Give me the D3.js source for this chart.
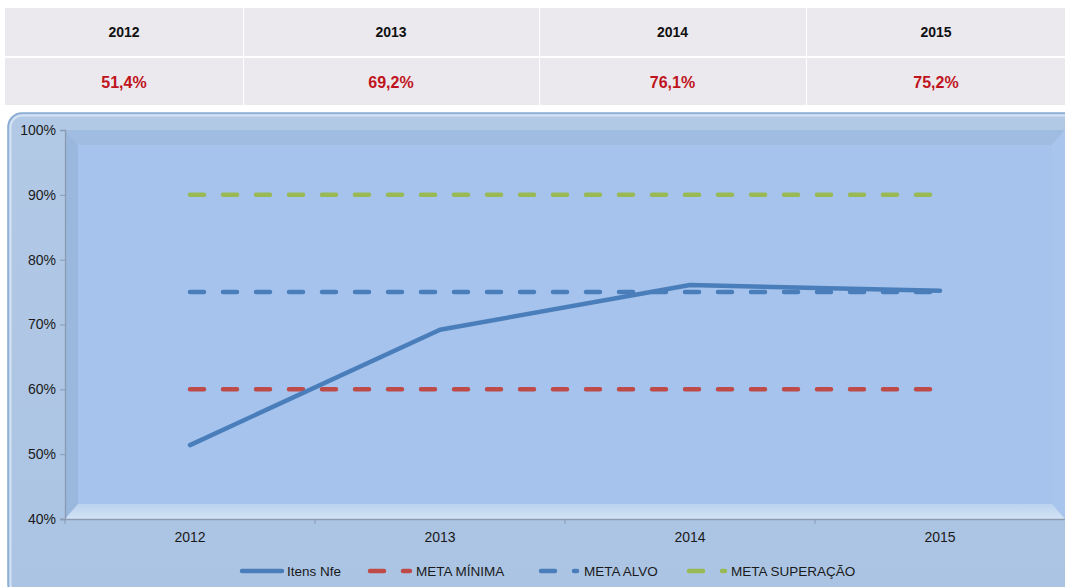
<!DOCTYPE html>
<html><head><meta charset="utf-8">
<script src="https://cdn.jsdelivr.net/npm/d3@7/dist/d3.min.js"></script>
<style>
html,body{margin:0;padding:0;background:#fff;}
svg{display:block;font-family:"Liberation Sans",Arial,sans-serif;}
</style></head>
<body>
<svg id="c" width="1065" height="587"></svg>
<script>
const categories = ["2012","2013","2014","2015"];
const itensNfe = [51.4, 69.2, 76.1, 75.2];
const metaMinima = [60, 60, 60, 60];
const metaAlvo = [75, 75, 75, 75];
const metaSuperacao = [90, 90, 90, 90];
const yTicks = [40, 50, 60, 70, 80, 90, 100];
const seriesNames = ["Itens Nfe", "META MÍNIMA", "META ALVO", "META SUPERAÇÃO"];

const svg = d3.select("#c");

// ---- Top table ----
const colEdges = [5, 243, 539, 806, 1070];
const tbl = svg.append("g");
const fmt = v => v.toFixed(1).replace(".", ",") + "%";
categories.forEach((c, i) => {
  const x0 = colEdges[i], x1 = colEdges[i+1];
  tbl.append("rect").attr("x", x0 + (i ? 1 : 0)).attr("y", 8).attr("width", x1 - x0 - (i ? 1 : 0)).attr("height", 48).attr("fill", "#EBE9EE");
  tbl.append("rect").attr("x", x0 + (i ? 1 : 0)).attr("y", 58).attr("width", x1 - x0 - (i ? 1 : 0)).attr("height", 47).attr("fill", "#EBE9EE");
  const cx = i === 3 ? 936 : (x0 + x1) / 2;
  tbl.append("text").attr("x", cx).attr("y", 32).attr("text-anchor", "middle").attr("dominant-baseline", "central")
    .attr("font-size", 14).attr("font-weight", "bold").attr("fill", "#111").text(c);
  tbl.append("text").attr("x", cx).attr("y", 82).attr("text-anchor", "middle").attr("dominant-baseline", "central")
    .attr("font-size", 16).attr("font-weight", "bold").attr("fill", "#C0141C").text(fmt(itensNfe[i]));
});

// ---- Chart frame ----
const defs = svg.append("defs");
const fg = defs.append("linearGradient").attr("id", "frameG").attr("x1", 0).attr("y1", 0).attr("x2", 0).attr("y2", 1);
fg.append("stop").attr("offset", "0").attr("stop-color", "#B2C9E6");
fg.append("stop").attr("offset", "1").attr("stop-color", "#ABC4E3");
svg.append("rect").attr("x", 8).attr("y", 113).attr("width", 1075).attr("height", 485).attr("rx", 14)
  .attr("fill", "url(#frameG)").attr("stroke", "#86A9D4").attr("stroke-width", 1.5);
svg.append("rect").attr("x", 10.5).attr("y", 115.5).attr("width", 1070).attr("height", 480).attr("rx", 12)
  .attr("fill", "none").attr("stroke", "#DCEAF8").attr("stroke-width", 2).attr("opacity", 0.8);

// ---- Scales ----
const x = d3.scaleBand().domain(categories).range([65, 1065]);
const y = d3.scaleLinear().domain([40, 100]).range([519, 130]);
const cx = d => x(d) + x.bandwidth() / 2;

// ---- 3D walls ----
const L = 65, R = 1065, T = y(100), B = y(40), d = 13, dv = 15;
const walls = svg.append("g");
walls.append("polygon").attr("points", `${L},${T} ${L+d},${T+dv} ${L+d},${B-dv} ${L},${B}`).attr("fill", "#9AB7DD");
walls.append("polygon").attr("points", `${L},${T} ${R},${T} ${R-d},${T+dv} ${L+d},${T+dv}`).attr("fill", "#A0BCE0");
walls.append("rect").attr("x", L+d).attr("y", T+dv).attr("width", R-L-2*d).attr("height", B-T-2*dv).attr("fill", "#A5C3EC");
walls.append("polygon").attr("points", `${R-d},${T+dv} ${R},${T} ${R},${B} ${R-d},${B-dv}`).attr("fill", "#A8C5EE");
const flg = defs.append("linearGradient").attr("id", "floorG").attr("x1", 0).attr("y1", 0).attr("x2", 0).attr("y2", 1);
flg.append("stop").attr("offset", "0").attr("stop-color", "#BBD3EF");
flg.append("stop").attr("offset", "1").attr("stop-color", "#D2E3F5");
walls.append("polygon").attr("points", `${L+d},${B-dv} ${R-d},${B-dv} ${R},${B} ${L},${B}`).attr("fill", "url(#floorG)");

// ---- Axes ----
const axisCol = "#8A9BB2";
const yAxis = svg.append("g").attr("transform", `translate(${L},0)`)
  .call(d3.axisLeft(y).tickValues(yTicks).tickSize(5).tickFormat(v => v + "%"));
const xAxis = svg.append("g").attr("transform", `translate(0,${B})`)
  .call(d3.axisBottom(x).tickSize(0).tickPadding(13));
[yAxis, xAxis].forEach(a => {
  a.attr("font-size", 14).attr("font-family", "Liberation Sans, Arial, sans-serif");
  a.select(".domain").attr("stroke", axisCol).attr("stroke-width", 1.3);
  a.selectAll(".tick line").attr("stroke", axisCol);
  a.selectAll("text").attr("font-size", 14).attr("fill", "#1A1A1A");
});
yAxis.selectAll("text").attr("dx", "-1");
xAxis.select(".domain").attr("d", `M${L-5},0.5H${R}`);
// category boundary ticks
svg.append("g").selectAll("line").data(categories).join("line")
  .attr("x1", dd => x(dd)).attr("x2", dd => x(dd)).attr("y1", B).attr("y2", B + 5)
  .attr("stroke", axisCol);

// ---- Lines ----
const lineGen = d3.line().x((v, i) => cx(categories[i])).y(v => y(v));
const series = [
  {name: seriesNames[0], data: itensNfe, color: "#4A7EBB", dash: null},
  {name: seriesNames[1], data: metaMinima, color: "#BE4B48", dash: "14,19"},
  {name: seriesNames[2], data: metaAlvo, color: "#4A7EBB", dash: "14,19"},
  {name: seriesNames[3], data: metaSuperacao, color: "#98B954", dash: "14,19"}
];
const order = [1, 3, 0, 2];
order.forEach(k => {
  const s = series[k];
  svg.append("path").attr("d", lineGen(s.data)).attr("fill", "none")
    .attr("stroke", s.color).attr("stroke-width", 4.5).attr("stroke-linecap", "round").attr("stroke-linejoin", "round")
    .attr("stroke-dasharray", s.dash);
});

// ---- Legend ----
const leg = svg.append("g");
const legItems = [
  {x1: 242, x2: 282, tx: 287},
  {x1: 370, x2: 410, tx: 416},
  {x1: 541, x2: 577, tx: 584},
  {x1: 689, x2: 725, tx: 731}
];
series.forEach((s, i) => {
  const li = legItems[i];
  leg.append("line").attr("x1", li.x1).attr("x2", li.x2).attr("y1", 571).attr("y2", 571)
    .attr("stroke", s.color).attr("stroke-width", 4.5).attr("stroke-linecap", "round").attr("stroke-dasharray", s.dash);
  leg.append("text").attr("x", li.tx).attr("y", 571).attr("dominant-baseline", "central")
    .attr("font-size", 13.5).attr("fill", "#1A1A1A").text(s.name);
});
</script>
</body></html>
